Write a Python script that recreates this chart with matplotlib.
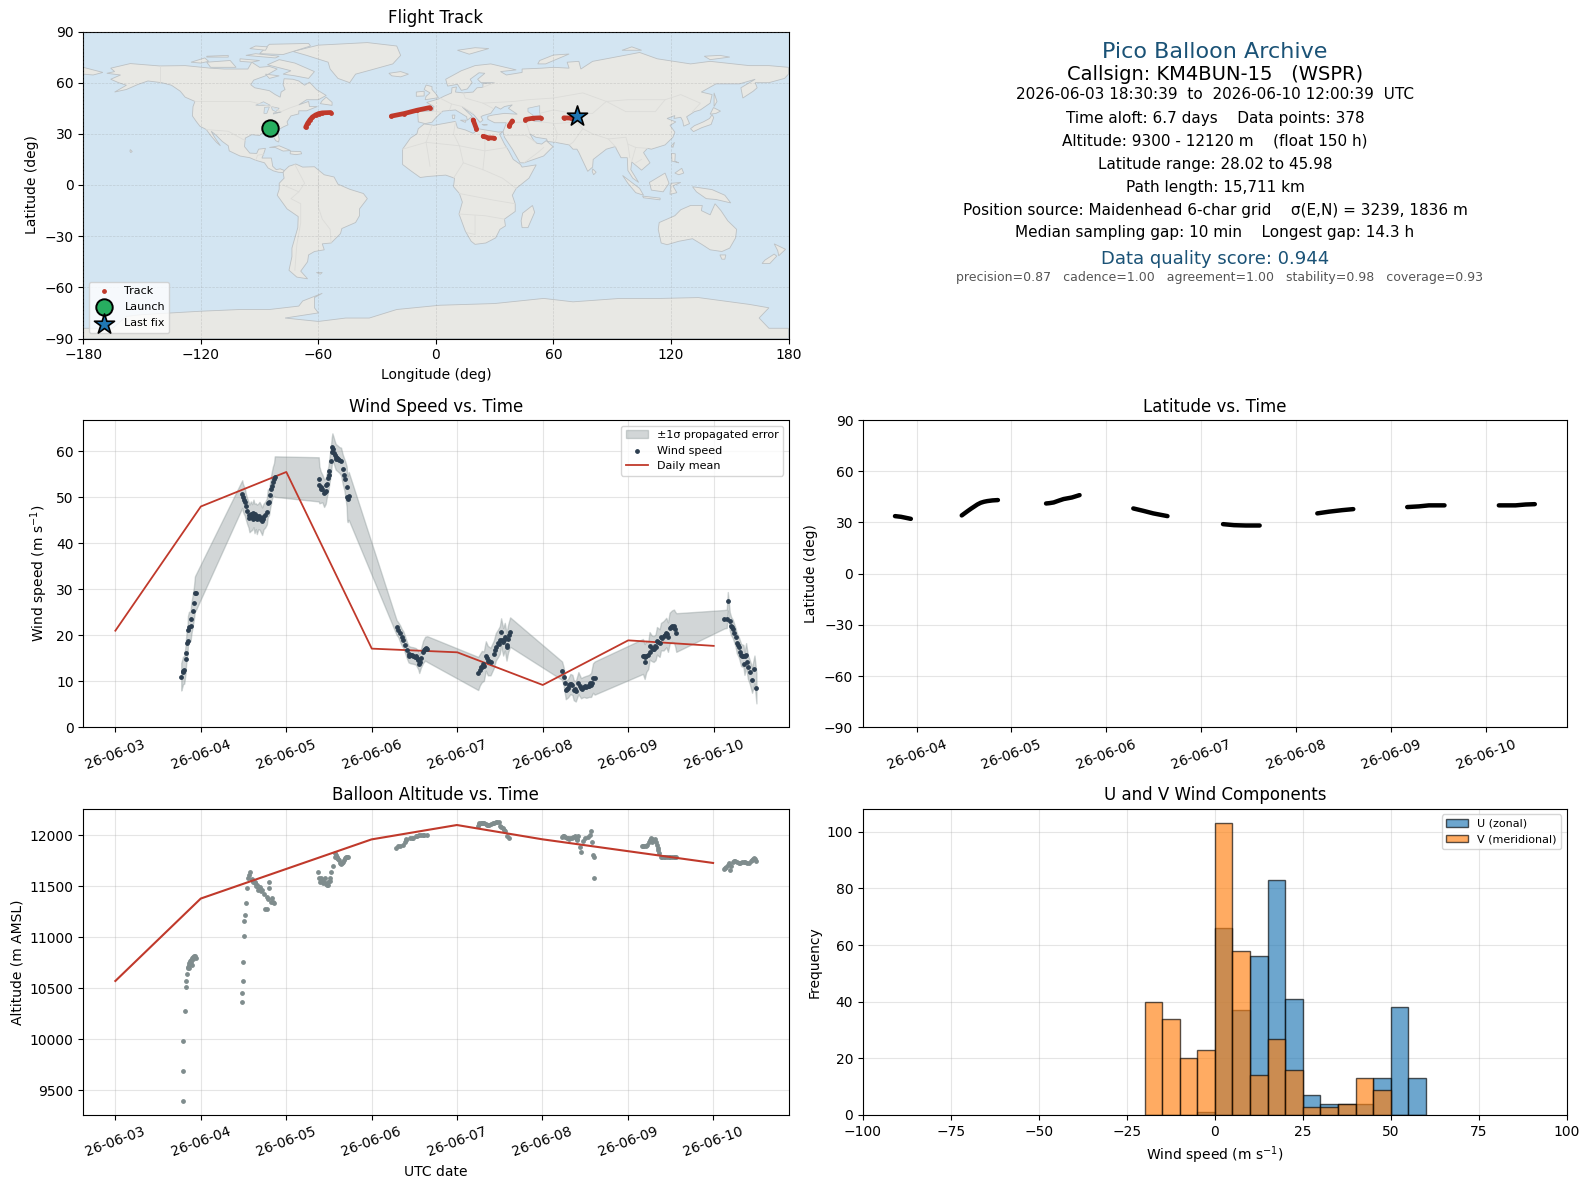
import matplotlib
matplotlib.use('Agg')
import matplotlib.pyplot as plt
import matplotlib.dates as mdates
from datetime import datetime
import numpy as np

# wind speed (days since 06-03 00:00)
wind_days = [0.771, 0.787, 0.790, 0.806, 0.822, 0.826, 0.837, 0.845, 0.849, 0.861, 0.880, 0.888, 0.903, 0.919, 0.931, 0.938,
             1.484, 1.491, 1.503, 1.515, 1.526, 1.542, 1.558, 1.569, 1.585, 1.600, 1.616, 1.628, 1.643, 1.655, 1.671, 1.686, 1.702, 1.717, 1.733, 1.752, 1.772, 1.783, 1.799, 1.811, 1.822, 1.830, 1.842, 1.857, 1.865,
             2.379, 2.387, 2.403, 2.422, 2.442, 2.461, 2.477, 2.492, 2.504, 2.520, 2.531, 2.539, 2.551, 2.562, 2.578, 2.597, 2.621, 2.640, 2.660, 2.679, 2.691, 2.706, 2.712, 2.718, 2.730,
             3.29, 3.31, 3.33, 3.35, 3.37, 3.39, 3.41, 3.43, 3.454, 3.485, 3.516, 3.544, 3.555, 3.575, 3.60, 3.625, 3.649,
             4.245, 4.264, 4.287, 4.311, 4.334, 4.357, 4.389, 4.428, 4.451, 4.478, 4.498, 4.513, 4.537, 4.556, 4.576, 4.595, 4.618,
             5.226, 5.245, 5.257, 5.269, 5.296, 5.323, 5.347, 5.362, 5.386, 5.417, 5.448, 5.479, 5.510, 5.541, 5.565, 5.588, 5.607,
             6.172, 6.192, 6.211, 6.235, 6.25, 6.274, 6.297, 6.32, 6.336, 6.367, 6.383, 6.414, 6.445, 6.465, 6.484, 6.511, 6.535, 6.55, 6.562,
             7.126, 7.153, 7.165, 7.188, 7.204, 7.223, 7.255, 7.270, 7.294, 7.321, 7.348, 7.36, 7.379, 7.399, 7.422, 7.449, 7.477, 7.5]
wind_speed = [11.0, 12.0, 12.3, 12.5, 14.8, 16.2, 18.3, 18.8, 21.2, 21.9, 22.0, 23.5, 25.2, 27.0, 29.1, 29.2,
              50.7, 50.0, 49.4, 49.0, 48.0, 47.0, 46.2, 45.4, 45.9, 45.7, 46.5, 45.4, 45.9, 45.2, 45.8, 46.0, 45.4, 44.8, 45.8, 46.2, 46.9, 48.7, 49.0, 50.5, 51.7, 52.5, 53.4, 53.9, 54.5,
              53.9, 52.7, 52.2, 51.9, 50.9, 51.4, 52.9, 54.1, 55.8, 57.8, 59.9, 60.9, 60.4, 59.7, 58.8, 58.5, 58.1, 57.8, 56.1, 54.9, 53.9, 52.3, 50.0, 49.6, 50.3,
              21.7, 21.2, 20.4, 19.6, 19.0, 17.9, 16.8, 15.9, 15.7, 15.6, 15.4, 14.6, 13.8, 15.0, 16.4, 17.1, 17.0,
              11.7, 12.5, 13.2, 13.3, 15.5, 14.5, 14.3, 15.9, 17.5, 18.3, 19.0, 20.7, 18.6, 19.7, 17.5, 19.3, 20.7,
              12.3, 11.0, 9.6, 8.1, 8.5, 9.4, 9.2, 8.1, 7.8, 9.6, 8.5, 8.8, 8.8, 9.0, 9.2, 10.7, 10.7,
              15.4, 14.3, 15.4, 15.7, 17.7, 17.2, 17.0, 17.4, 18.8, 18.3, 19.7, 19.9, 20.6, 19.6, 21.5, 22.0, 22.0, 21.3, 20.6,
              23.5, 23.6, 27.4, 23.0, 22.0, 21.4, 19.6, 18.3, 17.4, 15.7, 15.5, 13.8, 15.7, 13.2, 12.0, 10.3, 12.6, 8.5]
wind_err = [3.0, 3.0, 3.0, 3.0, 3.0, 3.0, 3.0, 3.0, 3.0, 3.2, 3.2, 3.4, 3.4, 3.5, 3.7, 3.9,
            3.0, 3.0, 3.0, 3.0, 2.8, 2.8, 2.8, 3.0, 3.2, 2.8, 3.0, 3.2, 2.8, 3.2, 2.8, 3.0, 3.0, 3.0, 2.8, 2.8, 2.8, 3.0, 2.8, 2.8, 3.0, 3.0, 3.2, 3.6, 4.4,
            4.8, 4.0, 3.4, 3.0, 3.0, 2.8, 2.6, 2.6, 2.8, 3.0, 3.0, 3.0, 2.8, 2.8, 2.8, 2.8, 2.8, 3.0, 3.2, 3.4, 3.8, 4.4, 5.0, 5.0, 5.2,
            1.6, 1.6, 1.8, 1.8, 1.8, 1.8, 1.8, 1.8, 1.8, 1.8, 1.8, 2.0, 2.0, 2.0, 2.4, 2.6, 2.8,
            3.6, 3.4, 3.4, 3.2, 3.2, 3.2, 3.0, 3.0, 3.0, 3.0, 3.0, 3.0, 3.0, 3.0, 3.0, 3.0, 3.2,
            2.0, 2.0, 2.0, 2.0, 2.0, 2.2, 2.2, 2.2, 2.2, 2.4, 2.2, 2.2, 2.4, 2.4, 2.6, 3.2, 3.6,
            3.8, 3.8, 3.4, 3.0, 3.0, 2.8, 2.8, 2.8, 3.0, 3.0, 3.0, 3.2, 3.2, 3.2, 3.4, 3.4, 3.6, 3.8, 4.2,
            2.0, 2.0, 2.0, 2.0, 2.0, 2.0, 2.0, 2.2, 2.2, 2.4, 2.4, 2.4, 2.6, 2.6, 2.6, 2.8, 3.0, 3.3]
wind_mean = [21.0, 48.0, 55.5, 17.1, 16.3, 9.2, 18.9, 17.7]
# more dots in the dense clusters
extra_wind_days = [1.575, 1.59, 1.61, 1.635, 1.648, 1.662, 1.678, 1.69, 1.71, 1.725,
                   2.41, 2.45, 2.47, 2.5, 2.57, 2.585, 2.61,
                   3.44, 3.47, 3.5, 3.53, 3.56, 3.61, 3.635,
                   4.28, 4.3, 4.345, 4.37, 4.44, 4.49, 4.52, 4.55, 4.585, 4.605,
                   5.285, 5.31, 5.335, 5.375, 5.43, 5.465, 5.495, 5.525, 5.555, 5.58,
                   6.18, 6.2, 6.26, 6.285, 6.31, 6.35, 6.39, 6.43, 6.455, 6.5, 6.52,
                   7.21, 7.24, 7.28, 7.31, 7.335, 7.37, 7.39]
extra_wind_speed = [45.8, 46.4, 45.3, 46.3, 45.5, 46.0, 45.4, 45.2, 45.3, 45.2,
                    51.7, 51.2, 52.6, 54.8, 59.2, 58.4, 58.4,
                    15.5, 15.8, 15.3, 15.0, 14.2, 16.8, 17.2,
                    13.0, 13.8, 15.0, 14.4, 16.8, 18.0, 18.9, 18.9, 17.9, 20.0,
                    8.4, 9.3, 9.5, 8.4, 9.0, 8.3, 9.0, 9.0, 9.6, 9.7,
                    15.6, 15.2, 16.3, 17.0, 17.7, 18.6, 19.5, 20.0, 20.3, 21.7, 21.9,
                    21.8, 20.4, 17.8, 16.3, 15.6, 15.6, 14.2]

# altitude
alt_days = [0.787, 0.787, 0.798, 0.81, 0.822, 0.822, 0.837, 0.849, 0.857, 0.868, 0.876, 0.888, 0.9, 0.915, 0.935, 0.942, 0.862, 0.895,
            0.855, 0.875, 0.885, 0.905, 0.925,
            1.488, 1.488, 1.499, 1.499, 1.511, 1.511, 1.523, 1.534, 1.546, 1.55, 1.565, 1.581, 1.597, 1.616, 1.636, 1.655, 1.674, 1.694, 1.713, 1.741, 1.752, 1.772, 1.772, 1.791, 1.803, 1.803, 1.819, 1.83, 1.842, 1.861,
            1.6, 1.63, 1.645, 1.665, 1.685, 1.7,
            2.375, 2.387, 2.395, 2.414, 2.434, 2.457, 2.477, 2.496, 2.516, 2.531, 2.551, 2.57, 2.582, 2.597, 2.617, 2.636, 2.656, 2.675, 2.699, 2.726,
            2.405, 2.425, 2.445, 2.47, 2.49, 2.51, 2.575, 2.59, 2.61, 2.645, 2.665, 2.69, 2.71,
            3.29, 3.31, 3.337, 3.368, 3.388, 3.407, 3.446, 3.485, 3.516, 3.555, 3.602, 3.649,
            3.4, 3.47, 3.53, 3.58, 3.62,
            4.245, 4.264, 4.295, 4.322, 4.35, 4.381, 4.42, 4.459, 4.49, 4.505, 4.537, 4.568, 4.583, 4.614,
            4.255, 4.28, 4.31, 4.335, 4.365, 4.4, 4.44, 4.475, 4.52, 4.55,
            5.23, 5.257, 5.284, 5.315, 5.347, 5.378, 5.405, 5.424, 5.444, 5.459, 5.479, 5.502, 5.53, 5.557, 5.576, 5.58, 5.588, 5.6, 5.603,
            5.24, 5.27, 5.3, 5.33, 5.36, 5.39, 5.41,
            6.164, 6.211, 6.25, 6.269, 6.289, 6.32, 6.34, 6.359, 6.386, 6.425, 6.484, 6.542, 6.569,
            6.18, 6.195, 6.23, 6.26, 6.28, 6.3, 6.33, 6.35, 6.37, 6.4, 6.44, 6.46, 6.5, 6.52, 6.555,
            7.126, 7.157, 7.185, 7.204, 7.231, 7.262, 7.301, 7.34, 7.379, 7.418, 7.457, 7.484, 7.508,
            7.14, 7.17, 7.215, 7.245, 7.28, 7.32, 7.36, 7.4, 7.44, 7.47, 7.495]
alt_m = [9395, 9686, 9980, 10275, 10510, 10569, 10637, 10696, 10729, 10745, 10768, 10778, 10794, 10810, 10817, 10794, 10700, 10729,
         10710, 10740, 10755, 10785, 10815,
         10363, 10451, 10569, 10755, 11010, 11157, 11216, 11333, 11480, 11578, 11611, 11644, 11562, 11546, 11529, 11513, 11464, 11497, 11464, 11425, 11275, 11275, 11399, 11376, 11539, 11480, 11350, 11382, 11343, 11333,
         11570, 11540, 11500, 11490, 11470, 11450,
         11637, 11578, 11539, 11578, 11529, 11578, 11513, 11539, 11578, 11637, 11699, 11824, 11807, 11775, 11758, 11725, 11725, 11758, 11784, 11791,
         11555, 11560, 11540, 11520, 11515, 11550, 11790, 11790, 11770, 11720, 11740, 11775, 11790,
         11873, 11895, 11899, 11905, 11938, 11961, 11971, 11977, 11997, 12003, 12003, 12003,
         11950, 11975, 11995, 12003, 12000,
         12095, 12124, 12124, 12118, 12101, 12101, 12124, 12127, 12127, 12095, 12069, 12042, 11997, 11977,
         12110, 12125, 12122, 12110, 12100, 12115, 12125, 12127, 12080, 12055,
         11987, 11997, 11977, 11964, 11977, 11997, 11954, 11997, 11889, 11840, 11944, 11971, 11987, 12003, 12042, 11938, 11807, 11578, 11784,
         11990, 11985, 11970, 11970, 11985, 11975, 11965,
         11899, 11899, 11938, 11971, 11938, 11961, 11905, 11856, 11791, 11788, 11788, 11788, 11784,
         11899, 11899, 11905, 11950, 11960, 11950, 11930, 11880, 11825, 11790, 11788, 11788, 11788, 11788, 11786,
         11667, 11693, 11725, 11660, 11742, 11748, 11725, 11735, 11735, 11725, 11758, 11781, 11752,
         11680, 11710, 11700, 11745, 11735, 11730, 11735, 11730, 11745, 11770, 11765]
alt_mean = [10572, 11380, 11670, 11960, 12101, 11961, 11845, 11729]

# latitude over time, nan splits the daily passes
lat_days = [0.773, 0.836, 0.888, 0.94, np.nan,
            1.476, 1.51, 1.542, 1.575, 1.605, 1.64, 1.675, 1.71, 1.745, 1.80, 1.857, np.nan,
            2.364, 2.40, 2.444, 2.50, 2.549, 2.636, 2.717, np.nan,
            3.283, 3.388, 3.493, 3.643, np.nan,
            4.228, 4.344, 4.467, 4.614, np.nan,
            5.221, 5.344, 5.484, 5.6, np.nan,
            6.168, 6.291, 6.396, 6.561, np.nan,
            7.133, 7.309, 7.414, 7.512]
lat_deg = [33.7, 33.3, 32.7, 32.1, np.nan,
           34.1, 35.5, 36.8, 38.1, 39.2, 40.5, 41.5, 42.1, 42.5, 42.9, 43.1, np.nan,
           41.1, 41.3, 41.7, 42.8, 43.7, 44.6, 46.0, np.nan,
           38.2, 36.8, 35.3, 33.7, np.nan,
           29.0, 28.4, 28.2, 28.2, np.nan,
           35.3, 36.3, 37.2, 37.8, np.nan,
           39.0, 39.4, 40.0, 40.0, np.nan,
           40.0, 40.0, 40.5, 40.7]

# track on the map
track_lon = [-85.5, -83.0, np.nan, -66.5, -65.5, -64.3, -63.0, -61.4, -59.8, -58.0, -53.7, np.nan, -22.7, -16.2, -9.4, -3.1, np.nan,
             19.0, 20.7, np.nan, 24.1, 26.7, 29.7, np.nan, 37.4, 39.0, np.nan, 45.7, 49.7, 53.4, np.nan, 65.3, 69.2]
track_lat = [33.7, 32.1, np.nan, 33.9, 36.2, 38.2, 39.9, 41.1, 41.9, 42.3, 42.5, np.nan, 40.4, 41.9, 43.9, 45.4, np.nan,
             38.2, 32.9, np.nan, 28.6, 27.7, 27.5, np.nan, 34.7, 37.6, np.nan, 38.4, 39.2, 39.4, np.nan, 39.4, 39.2]
launch = (-84.5, 33.5)
last_fix = (71.8, 40.2)

# histogram counts, 5 m/s bins from -20 to 60
bin_edges = list(range(-20, 61, 5))
u_counts = [0, 0, 0, 1, 66, 37, 56, 83, 41, 7, 4, 4, 4, 13, 38, 13]
v_counts = [40, 34, 20, 23, 103, 58, 14, 27, 16, 3, 3, 4, 13, 9, 0, 0]

info_lines = ['Pico Balloon Archive', 'Callsign: KM4BUN-15   (WSPR)',
              '2026-06-03 18:30:39  to  2026-06-10 12:00:39  UTC',
              'Time aloft: 6.7 days    Data points: 378',
              'Altitude: 9300 - 12120 m    (float 150 h)',
              'Latitude range: 28.02 to 45.98',
              'Path length: 15,711 km',
              'Position source: Maidenhead 6-char grid    σ(E,N) = 3239, 1836 m',
              'Median sampling gap: 10 min    Longest gap: 14.3 h',
              'Data quality score: 0.944',
              'precision=0.87   cadence=1.00   agreement=1.00   stability=0.98   coverage=0.93']

# rough coastlines (lon, lat)
land = [
    [(-168,65.5),(-164,66.5),(-166,68.5),(-156,71.2),(-141,69.8),(-128,70),(-115,68.5),(-108,68),(-96,68),(-94,72),(-90,69),(-85,69.5),(-81,68),(-87,64),(-93,61.5),(-94.5,58.8),(-92.5,57),(-85,55.3),(-82,53),(-79.5,51.5),(-79,54.5),(-77,56),(-78,58.8),(-77.5,62.3),(-73,62),(-70,61),(-67,58.5),(-64.5,60.3),(-61,56),(-56,52.5),(-60,50),(-66,50),(-70,47),(-65,49),(-64.5,46),(-60.5,46),(-66,43.5),(-70,43.5),(-70,41.7),(-74,40.5),(-76,37),(-75.5,35.3),(-78,34),(-81,32),(-80,27),(-80.3,25.2),(-81.8,26),(-82.8,28),(-84,30),(-89,30.3),(-90,29),(-94,29.5),(-97.3,27.5),(-97.7,22.5),(-95,18.7),(-91.5,18.5),(-90.5,21),(-87,21.5),(-88,18),(-88.8,15.8),(-84,15.8),(-83.3,11),(-81.5,9),(-79.5,9.5),(-77.3,8.5),(-78,7.3),(-80.5,7.5),(-83,8.3),(-85.7,10),(-87.5,13),(-92,14.5),(-95,16),(-100,17),(-105.5,20),(-106,23),(-109,25.5),(-112.5,29.5),(-114.7,31.5),(-113,28),(-110,23),(-112,25),(-115,29),(-117.2,32.5),(-120.5,34.5),(-122.5,37.5),(-124.3,40.5),(-124,46),(-123,49),(-128,51.5),(-130.5,55),(-135,58.5),(-140,60),(-147,61),(-152,59),(-158,56),(-164,54.5),(-158,58.5),(-162,60),(-166,62),(-161,64.5)],
    [(-73,78.3),(-60,82),(-35,83.5),(-20,81.5),(-18,76),(-22,71),(-33,67.5),(-41,65),(-44,60),(-50,62.5),(-54,68),(-55,72),(-66,76)],
    [(-80,73.5),(-72,71.5),(-62,66.5),(-65,62.5),(-72,64),(-78,65),(-74,67),(-86,70.5)],
    [(-117,72),(-105,73),(-102,69),(-115,69)],
    [(-90,77),(-78,76.5),(-64,81.5),(-65,83),(-85,82.5)],
    [(-95,80),(-87,79),(-86,81),(-92,81.5)],
    [(-125,72),(-118,74.5),(-116,72.5),(-120,71.5)],
    [(-97,76),(-82,74.5),(-80,75.5),(-92,77)],
    [(-100,74),(-90,73),(-94,72),(-100,72.5)],
    [(-117,75.5),(-106,76),(-106,75),(-117,75)],
    [(-87,65),(-80,64),(-85,62.5)],
    [(-59,47.7),(-53,46.7),(-53,48.5),(-56,51.5),(-58,49.5)],
    [(-85,22),(-80,23),(-74.2,20.2),(-78,19.9),(-82,22)],
    [(-74.3,19.8),(-69,19.6),(-68.5,18.3),(-71.5,17.8),(-74.4,18.3)],
    [(-156,20.8),(-155,19.6),(-155.8,19),(-156.2,19.8)],
    [(-77.3,8.5),(-75,11),(-71.5,12.3),(-68,10.5),(-62,10.7),(-57,6),(-52,4.7),(-50,0.5),(-44,-2.5),(-37,-5),(-35,-8),(-39,-14),(-39,-18),(-41,-22),(-48,-25.5),(-48.7,-28.5),(-53.5,-34),(-58,-34.5),(-57,-38),(-62,-39),(-65,-41),(-65.5,-45),(-69,-50.5),(-65.5,-55),(-71,-54),(-75,-50),(-73.5,-42),(-73.5,-37),(-70.5,-25),(-70.3,-18.5),(-76,-14),(-81,-6),(-80,-2.5),(-80,1),(-77.5,4),(-78,7.3)],
    [(-61,-51.3),(-58,-51.3),(-59,-52.3)],
    [(-6,35.8),(-1,35),(10,37.3),(11,33.5),(15,32.3),(19,30.3),(22,32.9),(32,31),(34.3,31.3),(32.5,29.8),(35,24),(37.2,20),(39.5,15),(43.2,12),(44,10.5),(51.2,11.8),(47.5,4),(41,-2),(39,-6),(40.5,-11),(40.5,-15.5),(35,-20),(35.5,-24),(32.7,-26),(30.5,-31),(25.5,-34),(20,-34.8),(18,-33),(15,-27),(11.8,-17),(13.5,-10),(12,-5),(9,-1),(9.5,4),(5,5.8),(-4,5),(-8,4.4),(-13,8.5),(-17,12),(-17,21),(-13,27.5),(-9.7,30),(-9,33)],
    [(49.3,-12),(50.4,-16),(47,-25),(44,-25),(43.5,-21),(44.3,-16.5)],
    [(-9,37),(-9.3,43),(-1.5,43.5),(-1,46),(-4.7,48.4),(1.5,50.5),(4,52),(8,54),(8.2,57),(10.5,57.5),(10,54.5),(14,54),(19,54.5),(21,57),(24,57.3),(24,59.4),(30,60),(23,60),(21.3,62),(25,65.5),(22,65.8),(17.5,62),(18.5,60),(16,56.3),(13,55.5),(11,59),(6,58),(5,62),(13,67),(20,70),(28,71),(41,67.5),(33,66.5),(36,64.5),(44,66),(44,68),(54,68.5),(60,69),(68,68.5),(67,72),(73,72.5),(74,68),(80,72.5),(87,74),(104,77.7),(113,74),(130,71),(140,72.5),(160,70),(170,70),(180,69),(180,65),(178,62.5),(170,60),(163,60),(164,57),(162,55),(156.7,51),(155.7,57),(163,62),(155,59.3),(143,59.3),(135.5,54.5),(141,53),(140,48),(135,44),(132,43),(128,40),(129.5,36),(126.5,34.5),(126,37.5),(125,39.7),(121.5,39),(122,40.7),(118,39),(122.5,37),(119.5,35),(122,31),(121,28),(117,23.5),(110,21),(108,21.5),(106,19),(109.3,13),(105,8.7),(100,13.5),(99.5,9),(103.5,1.5),(100.5,4),(98,8.5),(97.7,16),(94.5,16),(91.5,22.5),(87,21),(80.3,15),(80,10.5),(77.5,8),(73,19),(72,21),(70,21),(68,23.5),(61,25),(57,25.5),(56.5,27),(51,28),(48,30),(50,26),(51.5,24.5),(54,24),(56.3,26),(59.8,22.5),(55,17),(45,13),(43,13),(39,21),(35,28),(34.3,31.3),(36,36.5),(30,36.5),(26.5,38.5),(26.5,40.3),(29,41),(35,42),(41.5,41.5),(37,45),(39,47),(35,46),(33,44.5),(30.5,46),(28,42),(24,40.7),(23,40),(24,38),(22.5,36.7),(19.5,41),(13.5,45.7),(18.5,40.2),(16,38),(15.7,40),(10,44),(3.5,43.3),(0,39.5),(-2,36.8),(-5.5,36)],
    [(-180,69),(-170,66),(-175,64.5),(-180,65)],
    [(-5.5,50),(1.3,51.2),(0,53.5),(-2,56),(-2,57.7),(-5,58.6),(-6,56),(-3,54),(-5,52)],
    [(-10,52),(-6,52.2),(-6,55),(-10,54.5)],
    [(-24,65.5),(-18,66.5),(-14,65),(-18,63.4),(-22.5,64)],
    [(11,79),(20,80.5),(27,80),(17,76.7)],
    [(52,71),(56,71),(68,76.8),(60,76.2),(53,73)],
    [(95,79),(105,79),(100,81)],
    [(137,75.5),(145,76),(150,75),(140,73.5)],
    [(142,54),(143.5,49),(142,46),(142,50)],
    [(130,33),(131.5,31.3),(135.7,33.6),(140.5,35.5),(141.8,39.5),(141,41.3),(139.7,39),(136.5,37),(132,34.8)],
    [(140,41.5),(141.7,45.4),(145.3,43.3),(143,42)],
    [(120.2,23),(121.8,25),(121,22)],
    [(80,9.5),(81.8,7.5),(80.5,6),(79.8,8)],
    [(12.5,38),(15.5,38),(15,36.7)],
    [(8.3,41),(9.7,41),(9.5,39),(8.5,39)],
    [(23.5,35.5),(26.3,35.3),(24.5,35)],
    [(95.3,5.6),(104,-2),(106,-6),(102,-4.5),(98,1)],
    [(105.5,-6.5),(114.5,-7.7),(114.4,-8.7),(106,-7.5)],
    [(109,1.5),(117,7),(119,1),(116,-4),(110,-3)],
    [(119.5,-5.5),(120,1),(125,1.5),(121,-0.5),(123,-4.5)],
    [(131,-1),(141,-2.7),(147.5,-6),(150.5,-10.5),(143,-8.5),(138,-8),(133,-4)],
    [(120.3,18.5),(122.2,18.3),(122,14),(124,13),(120.5,14)],
    [(122,7),(125.5,9.8),(126.5,7),(124,6)],
    [(114,-22),(122,-18),(125,-14.5),(130,-12),(136,-12),(135.5,-15),(140,-17.5),(142.5,-11),(145.5,-15),(149,-21),(153.5,-26),(153,-31),(150,-37),(146,-39),(140,-38),(136,-35),(131,-31.5),(124,-33),(118,-35),(115,-34),(113.5,-26)],
    [(145,-41),(148,-41),(147.5,-43.5),(146,-43.5)],
    [(172.7,-34.5),(178.5,-37.7),(175,-41.5),(174.5,-38.5)],
    [(172.7,-40.5),(174,-41.7),(170.5,-46),(166.5,-46),(168,-44)],
    [(-180,-84),(-165,-84),(-158,-77),(-150,-76),(-120,-74),(-100,-73),(-85,-73),(-70,-71),(-68,-68),(-58,-63.5),(-62,-66),(-62,-72),(-60,-75),(-77,-78),(-60,-80),(-46,-78),(-34,-78),(-20,-73),(2,-70.5),(30,-69.5),(55,-66.5),(70,-68.5),(94,-66.5),(115,-66.5),(134,-66),(160,-70),(170,-72),(165,-78),(170,-84),(180,-84),(180,-90),(-180,-90)],
]
lakes = [
    [(47,45),(53,46.5),(53,42),(54,37),(50,37.3),(49.5,41),(47,43)],
    [(-92,46.8),(-88,48.8),(-84.5,46.7),(-87,46.5)],
    [(-87.8,42),(-86.3,42),(-85,45.8),(-87.5,45.5)],
    [(-84,46),(-80,45),(-81.7,43),(-83.5,44)],
    [(-83,41.6),(-79,42.8),(-79,43),(-83,42.2)],
]
borders = [
    [(-141,69.8),(-141,60)], [(-123,49),(-95,49),(-84,46),(-79,43),(-75,45),(-70,47)],
    [(-117.2,32.5),(-106,31.5),(-97.3,26)], [(-92,14.5),(-91,17.5),(-88,18)],
    [(-72,12),(-67,1),(-70,-4),(-74,-8),(-69,-11),(-69,-22),(-71,-35),(-72,-50)],
    [(-60,5),(-60,-13),(-58,-20),(-54,-26),(-53.5,-34)], [(-78,0),(-70,-4)],
    [(-17,21),(-5,25),(12,23),(25,20),(36,22)], [(25,32),(25,20),(24,9),(34,4),(41,-2)],
    [(12,23),(14,13),(9,4)], [(-5,25),(-3,11)], [(14,13),(24,9)], [(12,-5),(30,-9),(40.5,-11)],
    [(11.8,-17),(25,-18),(35,-20)], [(20,-18),(20,-29),(16,-28)], [(10,37),(9,30),(12,23)], [(-2,35),(-5,25)],
    [(-1.5,43.5),(3,42.5)], [(2,51),(8,47.5),(7,44)], [(8,47.5),(13.5,46),(19,42)], [(14,54),(15,51),(24,48),(29,45)],
    [(24,57.3),(30,60)], [(24,48),(40,49),(47,50),(60,51),(75,54),(87,49),(98,50),(117,50),(125,53),(135,48),(131,43)],
    [(87,49),(97,43),(112,43),(117,50)], [(60,36),(62,30),(61,25)], [(36,36.5),(46,37),(48,39)], [(46,37),(48,30)],
    [(34.5,29),(46,29),(51,25)], [(55,22),(52,19),(45,13)], [(53,42),(60,44),(70,42),(80,42),(87,49)],
    [(54,37),(61,36),(72,37),(75,33),(80,30),(88,27),(97,28),(98,24),(102,22),(108,21.5)], [(75,33),(70,25),(68,23.5)],
    [(88,27),(92,22)], [(98,24),(99,16)], [(102,22),(100,14)], [(105,15),(102,13)],
]

W, H = 1589, 1189
fig = plt.figure(figsize=(W / 100, H / 100), dpi=100)


def place(left, top, right, bottom):
    return fig.add_axes([left / W, 1 - bottom / H, (right - left) / W, (bottom - top) / H])


RED = '#c0392b'
NAVY = '#2c3e50'
GRAY = '#7f8c8d'
TITLE_BLUE = '#1a5276'
RIGHT_L, RIGHT_R = 863, 1566.8
BOT_T, BOT_B = 808.8, 1115

day0 = mdates.date2num(datetime(2026, 6, 3))
mean_t = day0 + np.arange(8)


def date_axis(ax):
    ax.xaxis.set_major_locator(mdates.DayLocator())
    ax.xaxis.set_major_formatter(mdates.DateFormatter('%y-%m-%d'))
    ax.tick_params(axis='x', labelrotation=20)
    ax.grid(True, alpha=0.32)
    ax.set_axisbelow(True)


# map
ax_map = place(83.3, 31.5, 788.5, 338.5)
ax_map.set_facecolor('#d3e5f2')
for poly in land:
    ax_map.fill(*zip(*poly), facecolor='#e8e8e4', edgecolor='#bcc1c4', linewidth=0.6, zorder=1)
for poly in lakes:
    ax_map.fill(*zip(*poly), facecolor='#d3e5f2', edgecolor='#bcc1c4', linewidth=0.5, zorder=1)
for line in borders:
    ax_map.plot(*zip(*line), color='#dcdcd9', linewidth=0.6, zorder=1.5)
ax_map.plot(track_lon, track_lat, color=RED, linewidth=3.4, solid_capstyle='round', zorder=3)
ax_map.scatter(track_lon, track_lat, s=6, color=RED, zorder=3, label='Track')
ax_map.scatter(*launch, s=140, color='#27ae60', edgecolor='black', linewidth=1.4, zorder=5, label='Launch')
ax_map.scatter(*last_fix, s=230, marker='*', color='#1f77b4', edgecolor='black', linewidth=1.2, zorder=5, label='Last fix')
ax_map.set_xlim(-180, 180)
ax_map.set_ylim(-90, 90)
ax_map.set_xticks(range(-180, 181, 60))
ax_map.set_yticks(range(-90, 91, 30))
ax_map.grid(True, linestyle='--', linewidth=0.5, color='gray', alpha=0.25, zorder=2)
ax_map.set_axisbelow(False)
ax_map.set_xlabel('Longitude (deg)')
ax_map.set_ylabel('Latitude (deg)')
ax_map.set_title('Flight Track')
ax_map.legend(loc='lower left', fontsize=8, labelspacing=0.55)

# info panel
ax_info = fig.add_axes([0, 0, 1, 1])
ax_info.axis('off')
info_y = [52, 74, 94.5, 118.5, 141, 164.3, 187.6, 211, 232.5, 258.5, 278]
info_x = [1215] * 10 + [1219]
info_size = [16, 14] + [11] * 7 + [13, 9]
info_color = [TITLE_BLUE, 'black'] + ['black'] * 7 + [TITLE_BLUE, '#555555']
for txt, px, py, size, col in zip(info_lines, info_x, info_y, info_size, info_color):
    ax_info.text(px / W, 1 - py / H, txt, ha='center', va='center', fontsize=size, color=col,
                 transform=fig.transFigure)

# wind
t = day0 + np.array(wind_days)
ax_wind = place(83.3, 420, 788.5, 727.3)
lo = np.array(wind_speed) - np.array(wind_err)
hi = np.array(wind_speed) + np.array(wind_err)
ax_wind.fill_between(t, lo, hi, color=GRAY, alpha=0.35, label='±1σ propagated error')
ax_wind.scatter(t, wind_speed, s=6, color=NAVY, zorder=3, label='Wind speed')
ax_wind.scatter(day0 + np.array(extra_wind_days), extra_wind_speed, s=6, color=NAVY, zorder=3)
ax_wind.plot(mean_t, wind_mean, color=RED, linewidth=1.3, label='Daily mean')
ax_wind.set_ylim(0, 66.8)
date_axis(ax_wind)
ax_wind.set_ylabel('Wind speed (m s$^{-1}$)')
ax_wind.set_title('Wind Speed vs. Time')
ax_wind.legend(loc='upper right', fontsize=8)

# latitude
ax_lat = place(RIGHT_L, 420, RIGHT_R, 727.3)
ax_lat.plot(day0 + np.array(lat_days), lat_deg, color='black', linewidth=3.2, solid_capstyle='round')
ax_lat.set_ylim(-90, 90)
ax_lat.set_yticks(range(-90, 91, 30))
date_axis(ax_lat)
ax_lat.set_ylabel('Latitude (deg)')
ax_lat.set_title('Latitude vs. Time')

# altitude
ax_alt = place(83.3, BOT_T, 788.5, BOT_B)
ax_alt.scatter(day0 + np.array(alt_days), alt_m, s=6, color=GRAY, zorder=3)
ax_alt.plot(mean_t, alt_mean, color=RED, linewidth=1.5, zorder=4)
ax_alt.set_ylim(9258, 12260)
date_axis(ax_alt)
ax_alt.set_xlabel('UTC date')
ax_alt.set_ylabel('Altitude (m AMSL)')
ax_alt.set_title('Balloon Altitude vs. Time')

# histogram
ax_hist = place(RIGHT_L, BOT_T, RIGHT_R, BOT_B)
left_edges = bin_edges[:-1]
ax_hist.bar(left_edges, u_counts, width=5, align='edge', color='#1f77b4', edgecolor='black', alpha=0.65, label='U (zonal)')
ax_hist.bar(left_edges, v_counts, width=5, align='edge', color='#ff7f0e', edgecolor='black', alpha=0.65, label='V (meridional)')
ax_hist.set_xlim(-100, 100)
ax_hist.set_ylim(0, 108.15)
ax_hist.grid(True, alpha=0.32)
ax_hist.set_axisbelow(True)
ax_hist.set_xlabel('Wind speed (m s$^{-1}$)')
ax_hist.set_ylabel('Frequency')
ax_hist.set_title('U and V Wind Components')
ax_hist.legend(loc='upper right', fontsize=8)

fig.savefig('out.png', dpi=100)
plt.close(fig)
